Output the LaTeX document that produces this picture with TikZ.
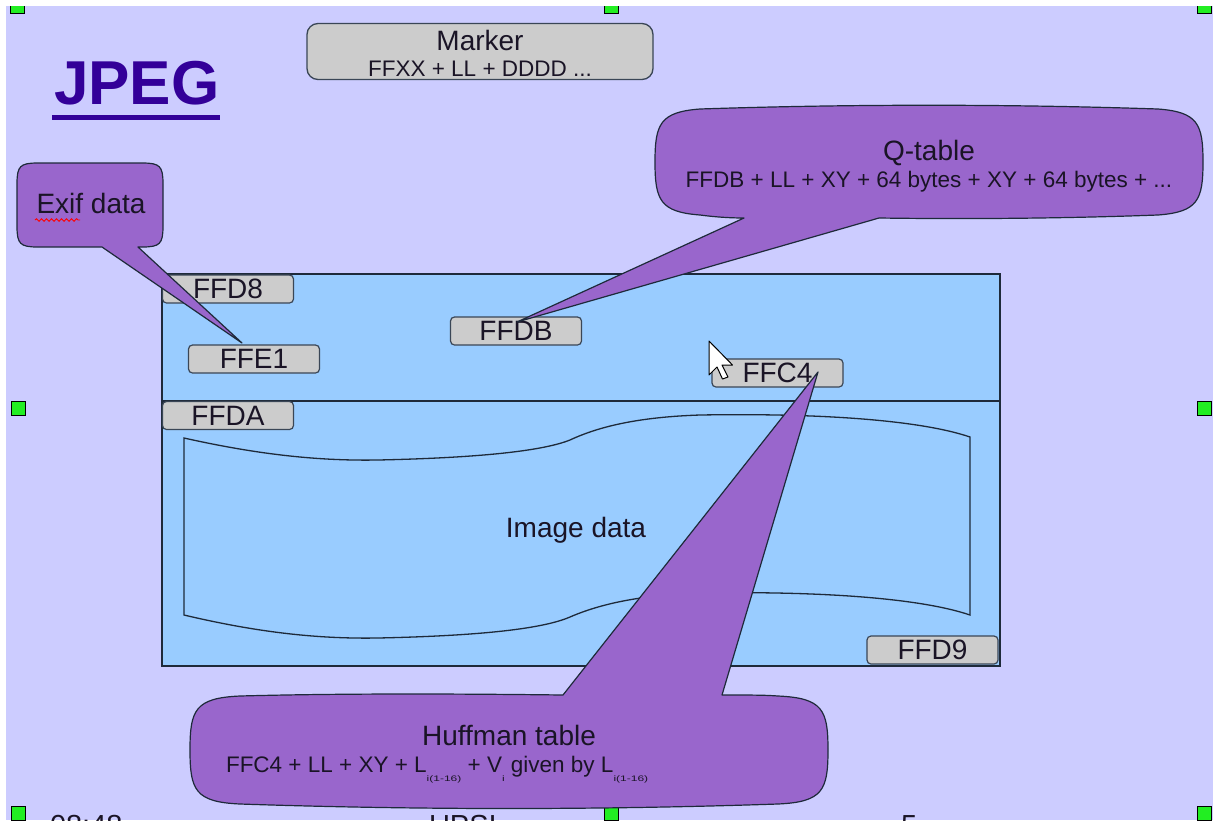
\documentclass[tikz,border=0pt]{standalone}
\usepackage{fontspec}
\usepackage{graphicx}
\setmainfont{Liberation Sans}
\usetikzlibrary{decorations.pathmorphing}
\definecolor{lav}{HTML}{CCCCFF}
\definecolor{skyb}{HTML}{99CCFF}
\definecolor{purp}{HTML}{9966CC}
\definecolor{greyb}{HTML}{CCCCCC}
\definecolor{titleblue}{HTML}{330099}
\definecolor{edgec}{HTML}{1E2A3A}
\definecolor{lbledge}{HTML}{3A4656}
\definecolor{handlegreen}{HTML}{22EE22}
\definecolor{txtc}{HTML}{1A1426}
\newcommand\hsub[1]{\raisebox{-9pt}{\scalebox{1.5}[1]{\fontsize{8}{8}\selectfont #1}}}
\tikzset{
  every node/.style={inner sep=0pt, outer sep=0pt},
  lblbox/.style={draw=lbledge, fill=greyb, line width=1.2pt, rounded corners=4pt,
    minimum width=131pt, minimum height=28pt, font=\fontsize{28}{28}\selectfont, text=txtc},
  callout/.style={draw=edgec, fill=purp, line width=1.2pt, line join=round},
  handlebox/.style={draw=black, fill=handlegreen, line width=0.8pt, minimum size=14pt},
  bigtxt/.style={font=\fontsize{28}{28}\selectfont, text=txtc, anchor=base},
  smalltxt/.style={font=\fontsize{22.5}{22.5}\selectfont, text=txtc, anchor=base},
  foottxt/.style={font=\fontsize{29}{29}\selectfont, text=txtc, anchor=base west},
}
\begin{document}
\begin{tikzpicture}[x=1pt,y=-1pt]
\useasboundingbox (0,0) rectangle (1213,820);
\begin{scope}
\clip (0,0) rectangle (1213,820);
% background
\fill[white] (0,0) rectangle (1213,820);
\fill[lav] (6,6) rectangle (1213,820);
% selection handles
\node[handlebox] (h1) at (17,6) {};
\node[handlebox] (h2) at (611,6) {};
\node[handlebox] (h3) at (1204,6) {};
\node[handlebox] (h4) at (18,408) {};
\node[handlebox] (h5) at (1204,408) {};
\node[handlebox] (h6) at (18,813) {};
\node[handlebox] (h7) at (611,813) {};
\node[handlebox] (h8) at (1204,813) {};
\fill[white] (0,0) rectangle (1213,6);
\fill[white] (0,0) rectangle (6,820);
% title
\node[anchor=base west, font=\fontsize{62}{62}\selectfont\bfseries, text=titleblue] (title) at (54,104) {JPEG};
\fill[titleblue] (52,115) rectangle (220,120);
% marker box
\node[draw=lbledge, fill=greyb, line width=1.3pt, rounded corners=11pt, minimum width=346pt, minimum height=56pt] (marker) at (480,51.5) {};
\node[bigtxt] (markert) at (480,50) {Marker};
\node[smalltxt] (markers) at (480,76) {FFXX + LL + DDDD ...};
% main file rectangle
\node[draw=edgec, fill=skyb, line width=1.3pt, minimum width=838pt, minimum height=392pt] (file) at (581,470) {};
\draw[edgec, line width=1.3pt] (file.west |- 0,401) coordinate (divl) -- (file.east |- 0,401) coordinate (divr);
% image data wave
\draw[draw=edgec, line width=1.3pt, fill=skyb]
  (184,438) .. controls (260,455) and (320,461) .. (378,460)
  .. controls (470,458) and (540,452) .. (570,440)
  .. controls (600,426) and (640,417) .. (700,415)
  .. controls (820,413) and (920,420) .. (970,437)
  -- (970,615)
  .. controls (920,598) and (820,591) .. (700,593)
  .. controls (640,595) and (600,604) .. (570,617)
  .. controls (540,630) and (470,636) .. (378,638)
  .. controls (320,639) and (260,633) .. (184,615) -- cycle;
\node[bigtxt] (imgdata) at (576,537) {Image data};
% marker labels
\node[lblbox] (ffd8) at (228,289) {FFD8};
\node[lblbox] (ffe1) at (254,359) {FFE1};
\node[lblbox] (ffdb) at (516,331) {FFDB};
\node[lblbox] (ffc4) at (777.5,373) {FFC4};
\node[lblbox] (ffda) at (228,415.5) {FFDA};
\node[lblbox] (ffd9) at (932.5,650) {FFD9};
% Exif callout
\draw[callout] (17,205) -- (17,184) .. controls (17,166) and (20,163) .. (38,163)
  -- (142,163) .. controls (160,163) and (163,166) .. (163,184)
  -- (163,226) .. controls (163,244) and (160,247) .. (142,247)
  -- (138,247) -- (242,343) -- (102,247)
  -- (38,247) .. controls (20,247) and (17,244) .. (17,226) -- cycle;
\node[bigtxt] (exif) at (91,213) {Exif data};
\draw[red, line width=0.9pt, decorate, decoration={snake, amplitude=1.3pt, segment length=5pt}] (35,220) -- (80,220);
% Q-table callout
\draw[callout] (655,162) .. controls (655,124) and (660,112) .. (700,109)
  .. controls (850,104) and (1008,104) .. (1158,109)
  .. controls (1198,112) and (1203,124) .. (1203,162)
  .. controls (1203,200) and (1198,212) .. (1158,215)
  .. controls (1050,219) and (950,219) .. (879,218)
  -- (517,322) -- (744,218)
  .. controls (730,218) and (715,217) .. (700,215)
  .. controls (660,212) and (655,200) .. (655,162) -- cycle;
\node[bigtxt] (qt) at (929,160) {Q-table};
\node[smalltxt] (qts) at (929,187) {FFDB + LL + XY + 64 bytes + XY + 64 bytes + ...};
% Huffman callout
\draw[callout] (190,750) .. controls (190,710) and (195,698) .. (240,696)
  .. controls (350,693) and (480,694) .. (563,695)
  -- (818,372) -- (722,695)
  .. controls (750,695) and (765,695) .. (778,696)
  .. controls (823,698) and (828,710) .. (828,750)
  .. controls (828,790) and (823,802) .. (778,804)
  .. controls (600,810) and (418,810) .. (240,804)
  .. controls (195,802) and (190,790) .. (190,750) -- cycle;
\node[bigtxt] (huff) at (509,745) {Huffman table};
\node[smalltxt, anchor=base west] (huffs) at (226,772) {FFC4 + LL + XY + L\hsub{i(1-16)} + V\hsub{i} given by L\hsub{i(1-16)}};
% mouse cursor
\draw[fill=white, draw=black, line width=1pt, line join=round, shift={(709,341)}]
  (0,0) -- (0,34) -- (8,26) -- (13.5,38) -- (19,36) -- (13,24) -- (23.5,24) -- cycle;
% footer (cut off at the bottom edge, as in the reference)
\node[foottxt] (ftime) at (50,835) {08:48};
\node[foottxt] (fname) at (429,835) {UPSI};
\node[foottxt] (fpage) at (901,835) {5};
\end{scope}
\end{tikzpicture}
\end{document}
